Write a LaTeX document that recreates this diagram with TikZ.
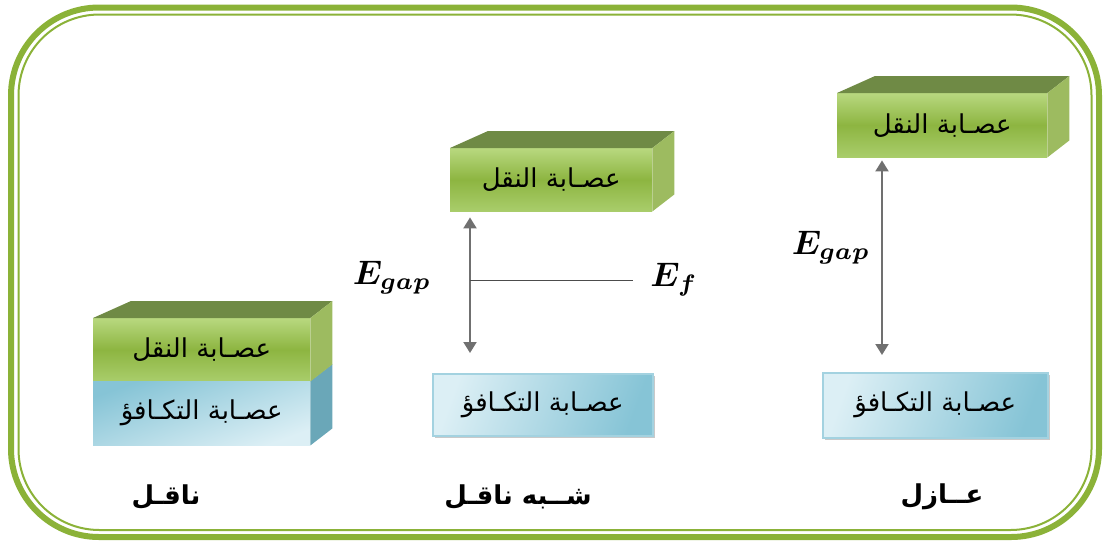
\documentclass[tikz,border=0pt]{standalone}
\usepackage{fontspec}
\usepackage{bm}
\usetikzlibrary{arrows.meta,calc,shadows}
\TeXXeTstate=1
\newfontfamily\arabicfont[Script=Arabic]{DejaVu Sans}
\newcommand{\bandtxt}[1]{{\arabicfont\fontsize{26}{30}\selectfont\beginR #1\endR}}
\newcommand{\kindtxt}[1]{{\arabicfont\bfseries\fontsize{26}{30}\selectfont\beginR #1\endR}}
\newcommand{\elab}[1]{\scalebox{3.4}{$\bm{#1}$}}
\definecolor{framegreen}{HTML}{8BB238}
\definecolor{gLight}{HTML}{B8D87F}
\definecolor{gMid}{HTML}{8DB541}
\definecolor{gLow}{HTML}{A9CD6B}
\definecolor{gTop}{HTML}{6F8A45}
\definecolor{gSide}{HTML}{9DBB60}
\definecolor{bLight}{HTML}{DCEFF5}
\definecolor{bDark}{HTML}{86C4D6}
\definecolor{bSide}{HTML}{6AA7B8}
\definecolor{bEdge}{HTML}{A3D2E0}
\definecolor{arrgray}{HTML}{707070}
\tikzset{
  gfront/.style={inner sep=0pt, anchor=north west, top color=gLight, bottom color=gLow, middle color=gMid},
  bfront/.style={inner sep=0pt, anchor=north west, left color=bLight, right color=bDark, shading angle=70},
  bflat/.style={bfront, draw=bEdge, line width=1.5pt, drop shadow={shadow xshift=2.5pt, shadow yshift=-2.5pt, fill=gray!60, opacity=0.7}},
  gtopface/.style={fill=gTop},
  gsideface/.style={fill=gSide},
  bsideface/.style={fill=bSide},
  gaparrow/.style={draw=arrgray, line width=2pt, {Triangle[width=13pt,length=11pt]}-{Triangle[width=13pt,length=11pt]}},
  fermiline/.style={draw=black!70, line width=0.9pt},
  elabel/.style={inner sep=0pt},
  kind/.style={inner sep=0pt}
}
\begin{document}
\begin{tikzpicture}[x=1pt, y=-1pt]
\useasboundingbox (0,0) rectangle (1103,542);
% frame
\draw[framegreen, line width=6pt, rounded corners=88pt] (11,7.5) rectangle (1099,537);
\draw[framegreen, line width=2pt, rounded corners=81pt] (18.5,14.5) rectangle (1091.5,530);

% ---------- conductor ----------
\node[gfront, minimum width=217pt, minimum height=63pt] (condG) at (93,318) {\bandtxt{عصـابة النقل}};
\node[bfront, minimum width=217pt, minimum height=64pt, top color=bDark, bottom color=bLight, shading angle=20] (condB) at (93,381) {\bandtxt{عصـابة التكـافؤ}};
\fill[gtopface] (condG.north west) -- (condG.north east) -- ++(22,-17) -- ($(condG.north west)+(38,-17)$) -- cycle;
\fill[bsideface] (condB.north east) -- ++(22,-17) -- ($(condB.south east)+(22,-17)$) -- (condB.south east) -- cycle;
\fill[gsideface] (condG.north east) -- ++(22,-17) -- ($(condG.south east)+(22,-17)$) -- (condG.south east) -- cycle;

% ---------- semiconductor ----------
\node[gfront, minimum width=202pt, minimum height=63pt] (semiG) at (450,148) {\bandtxt{عصـابة النقل}};
\fill[gtopface] (semiG.north west) -- (semiG.north east) -- ++(22,-17) -- ($(semiG.north west)+(38,-17)$) -- cycle;
\fill[gsideface] (semiG.north east) -- ++(22,-17) -- ($(semiG.south east)+(22,-17)$) -- (semiG.south east) -- cycle;
\node[bflat, minimum width=220pt, minimum height=62pt] (semiB) at (432,373) {\bandtxt{عصـابة التكـافؤ}};
\draw[gaparrow] ([xshift=20pt,yshift=-6pt]semiG.south west) -- ([xshift=38pt,yshift=20pt]semiB.north west);
\coordinate (fermiL) at (470,280);
\coordinate (fermiR) at (633,280);
\draw[fermiline] (fermiL) -- (fermiR);
\node[elabel] (semiEg) at (392,278) {\elab{E_{gap}}};
\node[elabel] (semiEf) at (674,280) {\elab{E_{f}}};

% ---------- insulator ----------
\node[gfront, minimum width=210pt, minimum height=64pt] (insG) at (837,93) {\bandtxt{عصـابة النقل}};
\fill[gtopface] (insG.north west) -- (insG.north east) -- ++(22,-17) -- ($(insG.north west)+(38,-17)$) -- cycle;
\fill[gsideface] (insG.north east) -- ++(22,-17) -- ($(insG.south east)+(22,-17)$) -- (insG.south east) -- cycle;
\node[bflat, minimum width=225pt, minimum height=65pt] (insB) at (822,372) {\bandtxt{عصـابة التكـافؤ}};
\draw[gaparrow] ([xshift=45pt,yshift=-3pt]insG.south west) -- ([xshift=60pt,yshift=17pt]insB.north west);
\node[elabel] (insEg) at (831,248) {\elab{E_{gap}}};

% ---------- kinds ----------
\node[kind] (kCond) at (166,497) {\kindtxt{ناقـل}};
\node[kind] (kSemi) at (518,497) {\kindtxt{شــبه ناقـل}};
\node[kind] (kIns) at (942,497) {\kindtxt{عــازل}};
\end{tikzpicture}
\end{document}
